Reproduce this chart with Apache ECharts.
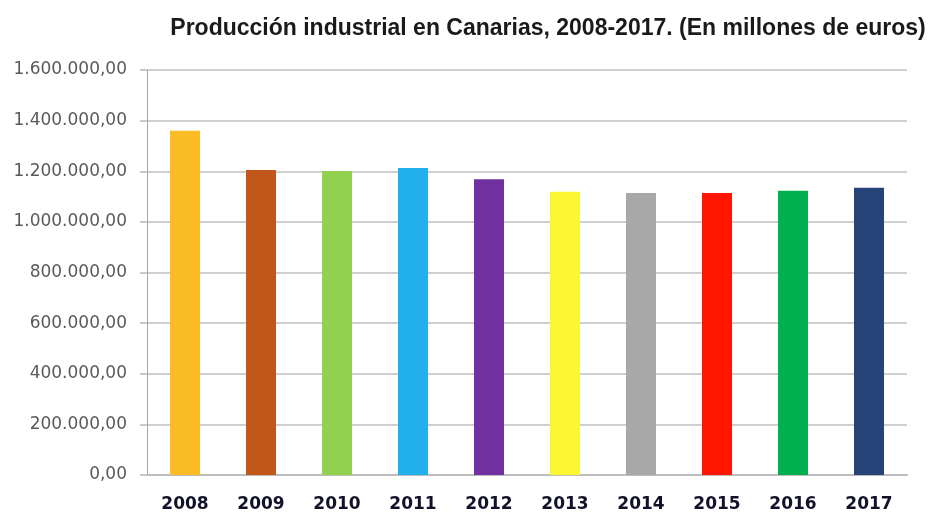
<!DOCTYPE html>
<html>
<head>
<meta charset="utf-8">
<script src="https://cdn.jsdelivr.net/npm/echarts@6/dist/echarts.min.js"></script>
<style>
html,body{margin:0;padding:0;background:#fff;}
#chart{width:932px;height:513px;}
</style>
</head>
<body>
<div id="chart"></div>
<script>
var titleText = 'Producción industrial en Canarias, 2008-2017. (En millones de euros)';
var years = ['2008','2009','2010','2011','2012','2013','2014','2015','2016','2017'];
var values = [1360000, 1205000, 1201000, 1213000, 1168000, 1119000, 1114000, 1114000, 1123000, 1135000];
var barColors = ['#FBBC26','#C1571B','#92D050','#22B0EC','#7030A0','#FAF732','#A8A8A8','#FF1500','#00B050','#264478'];
var yMin = 0, yMax = 1600000, yStep = 200000;

function fmt(v){
  var s = Math.round(v).toString();
  var out = '';
  while (s.length > 3){ out = '.' + s.slice(-3) + out; s = s.slice(0, -3); }
  return s + out + ',00';
}

var chart = echarts.init(document.getElementById('chart'), null, {renderer:'canvas'});
chart.setOption({
  animation:false,
  backgroundColor:'#ffffff',
  title:{
    text:titleText,
    left:543, top:12, textAlign:'center',
    textStyle:{fontFamily:'Liberation Sans, Arial, sans-serif', fontWeight:'bold', fontSize:23, color:'#1a1a1a'}
  },
  grid:{left:147, right:25, top:70, bottom:38, containLabel:false},
  xAxis:{
    type:'category', data:years,
    axisLine:{show:true, lineStyle:{color:'#bdbdbd', width:2}},
    axisTick:{show:false},
    axisLabel:{margin:21, fontFamily:'DejaVu Sans', fontWeight:'bold', fontSize:17, color:'#12122a'}
  },
  yAxis:{
    type:'value', min:yMin, max:yMax, interval:yStep,
    axisLine:{show:true, lineStyle:{color:'#a6a6a6', width:1}},
    axisTick:{show:true, length:7, lineStyle:{color:'#c8c8c8', width:2}},
    splitLine:{show:true, lineStyle:{color:'#cfcfcf', width:2}},
    axisLabel:{margin:20, formatter:fmt, fontFamily:'DejaVu Sans', fontSize:17, color:'#5a5a5a'}
  },
  series:[{
    type:'bar',
    barWidth:30,
    data:values.map(function(v,i){ return {value:v, itemStyle:{color:barColors[i]}}; })
  }]
});
</script>
</body>
</html>
